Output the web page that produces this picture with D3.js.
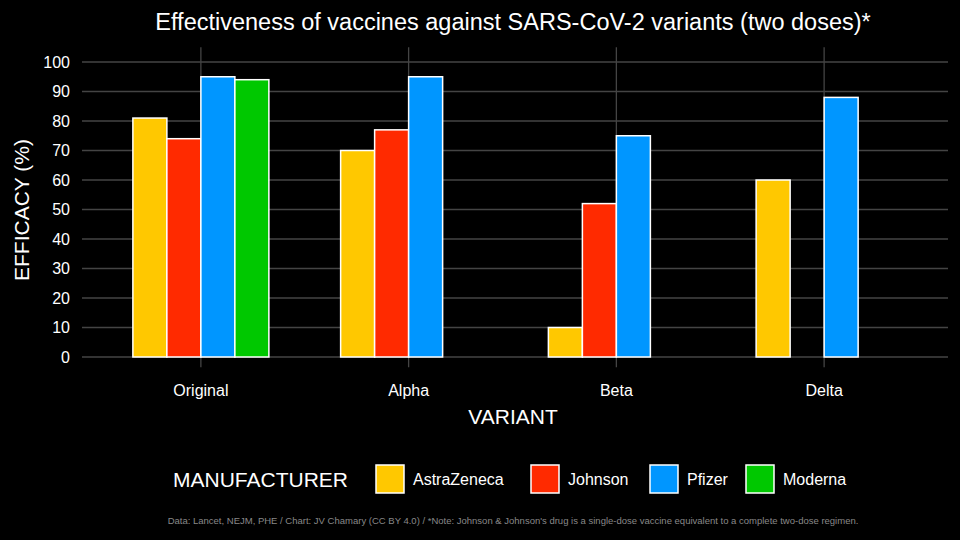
<!DOCTYPE html>
<html><head><meta charset="utf-8">
<script src="https://cdn.jsdelivr.net/npm/d3@7"></script>
<style>body{margin:0;background:#000}svg{display:block}text{font-family:"Liberation Sans",Arial,sans-serif}</style>
</head><body><svg width="960" height="540"></svg>
<script>
const variants=["Original","Alpha","Beta","Delta"];
const manufacturers=["AstraZeneca","Johnson","Pfizer","Moderna"];
const colors=["#ffc800","#ff2a00","#0096ff","#00c800"];
const astrazeneca=[81,70,10,60];
const johnson=[74,77,52,null];
const pfizer=[95,95,75,88];
const moderna=[94,0,0,0];
const yTicks=[0,10,20,30,40,50,60,70,80,90,100];
const series=[astrazeneca,johnson,pfizer,moderna];
const legendX=[376,531,650,746];

const svg=d3.select("svg");
svg.append("rect").attr("width",960).attr("height",540).attr("fill","#000");
const x=d3.scaleBand().domain(variants).range([97,928]).padding(0);
const xs=d3.scaleBand().domain(manufacturers).range([0,136]);
const y=d3.scaleLinear().domain([0,100]).range([357,62]);
const L=82,R=948;
svg.append("g").selectAll("line").data(yTicks).join("line")
 .attr("x1",L).attr("x2",R).attr("y1",d=>y(d)).attr("y2",d=>y(d)).attr("stroke","#444").attr("stroke-width",1.3);
svg.append("g").selectAll("line").data(variants).join("line")
 .attr("x1",d=>x(d)+x.bandwidth()/2).attr("x2",d=>x(d)+x.bandwidth()/2).attr("y1",y(105)).attr("y2",y(-3.5)).attr("stroke","#444").attr("stroke-width",1.3);
const data=[];
variants.forEach((v,i)=>series.forEach((s,j)=>{if(s[i]!==null)data.push({v:v,m:manufacturers[j],val:s[i],c:colors[j]});}));
svg.append("g").selectAll("rect").data(data).join("rect")
 .attr("x",d=>x(d.v)+x.bandwidth()/2-68+xs(d.m))
 .attr("width",xs.bandwidth())
 .attr("y",d=>y(d.val)).attr("height",d=>y(0)-y(d.val))
 .attr("fill",d=>d.c).attr("stroke","#fff").attr("stroke-width",1.5);
svg.append("g").selectAll("text").data(yTicks).join("text")
 .attr("x",70).attr("y",d=>y(d)).attr("dy","0.35em").attr("text-anchor","end").attr("fill","#fff").attr("font-size",16).text(d=>d);
svg.append("g").selectAll("text").data(variants).join("text")
 .attr("x",d=>x(d)+x.bandwidth()/2).attr("y",396).attr("text-anchor","middle").attr("fill","#fff").attr("font-size",16).text(d=>d);
svg.append("text").attr("x",513).attr("y",424).attr("text-anchor","middle").attr("fill","#fff").attr("font-size",21).text("VARIANT");
svg.append("text").attr("transform","translate(29,210) rotate(-90)").attr("text-anchor","middle").attr("fill","#fff").attr("font-size",21).text("EFFICACY (%)");
svg.append("text").attr("x",513).attr("y",30).attr("text-anchor","middle").attr("fill","#fff").attr("font-size",23.5).text("Effectiveness of vaccines against SARS-CoV-2 variants (two doses)*");
// legend
svg.append("text").attr("x",173).attr("y",487).attr("fill","#fff").attr("font-size",21).text("MANUFACTURER");
const lg=svg.append("g").selectAll("g").data(manufacturers).join("g").attr("transform",(d,i)=>`translate(${legendX[i]},465)`);
lg.append("rect").attr("width",28).attr("height",28).attr("fill",(d,i)=>colors[i]).attr("stroke","#fff").attr("stroke-width",1.5);
lg.append("text").attr("x",37).attr("y",20).attr("fill","#fff").attr("font-size",16).text(d=>d);
svg.append("text").attr("x",513).attr("y",524).attr("text-anchor","middle").attr("fill","#888").attr("font-size",9.5)
 .text("Data: Lancet, NEJM, PHE / Chart: JV Chamary (CC BY 4.0) / *Note: Johnson & Johnson's drug is a single-dose vaccine equivalent to a complete two-dose regimen.");
</script></body></html>
